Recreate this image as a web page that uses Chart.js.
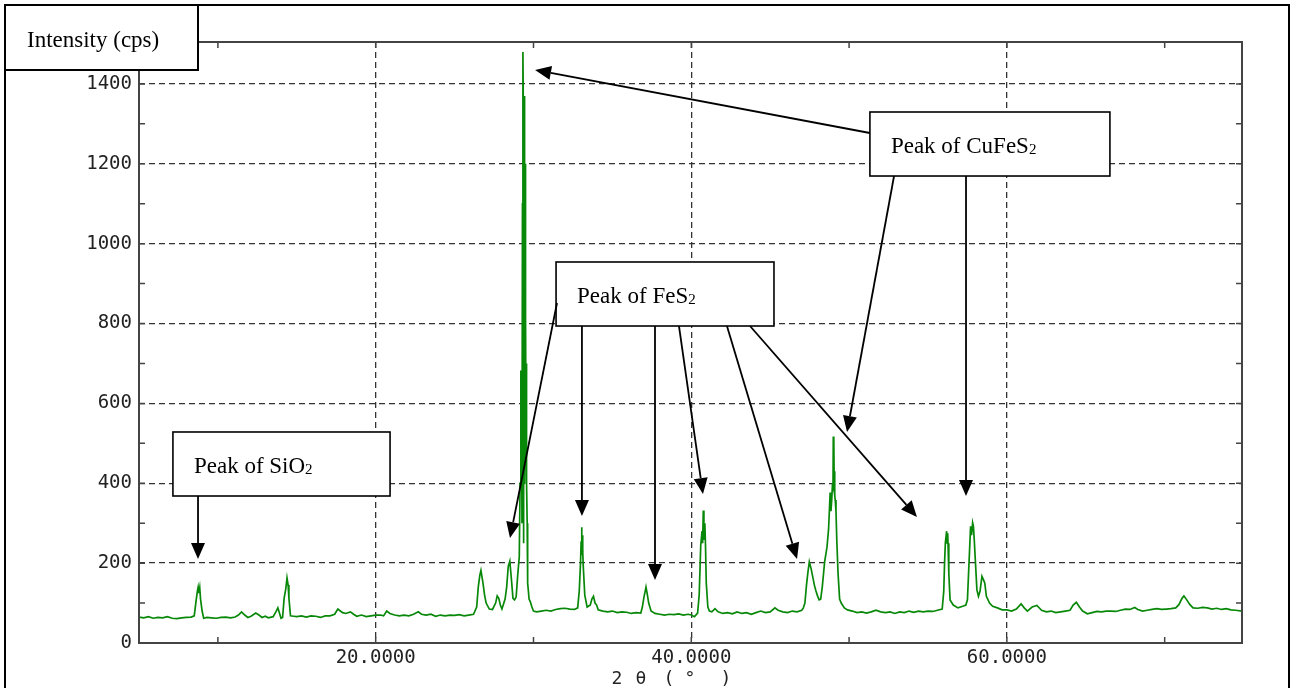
<!DOCTYPE html>
<html><head><meta charset="utf-8">
<script src="https://cdn.jsdelivr.net/npm/chart.js@4.4.1/dist/chart.umd.min.js"></script>
<style>html,body{margin:0;padding:0;background:#fff;overflow:hidden}#wrap{width:1294px;height:688px}</style>
</head><body><div id="wrap"><canvas id="c" width="1294" height="688"></canvas></div>
<script>
// ---- data: XRD scan, [2θ (deg), intensity (cps)] ----
const pattern = [
 [5.0,65],[5.3,63],[5.6,66],[5.9,62],[6.2,64],[6.5,63],[6.8,66],[7.1,62],[7.4,61],[7.7,63],[8.0,64],[8.3,65],[8.5,68],
 [8.6,100],[8.7,130],[8.75,140],[8.8,125],[8.85,138],[8.9,110],[9.0,80],[9.1,62],[9.3,64],[9.6,63],[9.9,62],[10.2,64],
 [10.5,65],[10.8,63],[11.1,65],[11.3,70],[11.5,78],[11.7,70],[11.9,64],[12.1,67],[12.4,75],[12.6,70],[12.8,64],[13.0,67],
 [13.2,63],[13.5,66],[13.7,80],[13.8,88],[13.9,75],[14.0,62],[14.1,64],[14.2,113],[14.3,135],[14.38,163],[14.45,145],
 [14.5,113],[14.6,68],[14.8,67],[15.0,66],[15.3,68],[15.6,65],[15.9,68],[16.2,67],[16.5,64],[16.8,68],[17.1,68],[17.4,72],
 [17.6,85],[17.7,82],[17.9,76],[18.1,74],[18.4,78],[18.6,72],[18.8,67],[19.1,70],[19.4,66],[19.7,68],[20.0,70],[20.3,70],
 [20.5,68],[20.7,80],[20.9,74],[21.2,70],[21.5,68],[21.8,70],[22.1,68],[22.4,72],[22.7,78],[22.9,72],[23.2,70],[23.5,72],
 [23.8,67],[24.1,70],[24.4,68],[24.7,70],[25.0,69],[25.3,71],[25.6,68],[25.9,70],[26.2,72],[26.4,90],[26.5,140],[26.6,170],
 [26.67,182],[26.8,150],[26.9,120],[27.0,100],[27.2,85],[27.4,84],[27.6,100],[27.7,118],[27.8,112],[27.9,95],[28.0,85],
 [28.2,110],[28.3,140],[28.4,192],[28.5,205],[28.6,160],[28.7,112],[28.8,108],[28.9,115],[29.0,170],[29.1,217],[29.15,400],
 [29.2,680],[29.24,680],[29.27,300],[29.3,1100],[29.33,1480],[29.35,1370],[29.36,250],[29.37,1370],[29.38,300],[29.39,1370],
 [29.4,400],[29.41,1370],[29.42,500],[29.43,1370],[29.44,400],[29.45,1370],[29.46,500],[29.47,1200],[29.48,600],[29.49,815],
 [29.5,450],[29.51,815],[29.53,500],[29.55,700],[29.57,400],[29.6,300],[29.63,150],[29.67,133],
 [29.72,110],[29.8,103],[29.9,90],[30.0,80],[30.2,78],[30.5,80],[30.8,82],[31.1,80],[31.4,84],[31.7,86],[32.0,87],[32.3,85],
 [32.6,84],[32.8,88],[32.9,130],[32.98,200],[33.02,255],[33.05,290],[33.07,220],[33.09,270],[33.12,230],[33.15,195],[33.25,120],[33.4,90],[33.6,95],
 [33.7,110],[33.8,117],[33.9,100],[34.0,95],[34.1,83],[34.4,80],[34.7,78],[35.0,80],[35.3,76],[35.6,78],[35.9,77],[36.2,74],
 [36.5,76],[36.8,75],[36.9,90],[37.0,115],[37.07,128],[37.13,140],[37.2,125],[37.3,100],[37.45,80],[37.7,74],[38.0,72],
 [38.3,70],[38.6,72],[38.9,71],[39.2,73],[39.5,70],[39.8,72],[40.0,70],[40.2,66],[40.4,75],[40.5,120],[40.6,245],[40.68,280],
 [40.72,250],[40.76,332],[40.8,300],[40.83,260],[40.86,300],[40.9,245],[40.95,150],[41.05,90],[41.15,80],[41.3,78],[41.5,86],[41.7,78],[42.0,74],
 [42.3,76],[42.6,73],[42.9,78],[43.2,74],[43.5,76],[43.8,72],[44.1,76],[44.4,80],[44.7,76],[45.0,78],[45.3,88],[45.5,82],
 [45.8,78],[46.1,76],[46.4,80],[46.7,78],[47.0,82],[47.1,88],[47.2,100],[47.3,145],[47.4,180],[47.48,203],[47.6,185],
 [47.7,165],[47.8,145],[47.9,130],[48.0,118],[48.1,108],[48.2,110],[48.3,140],[48.45,203],[48.6,240],[48.7,285],[48.8,377],
 [48.85,330],[48.9,358],[48.95,400],[48.98,380],[49.0,517],[49.02,400],[49.04,517],[49.06,380],[49.08,430],[49.1,370],[49.12,358],[49.17,330],[49.22,260],[49.3,175],[49.4,110],[49.5,100],
 [49.7,88],[49.9,83],[50.2,80],[50.5,76],[50.8,78],[51.1,75],[51.4,78],[51.7,82],[52.0,78],[52.3,76],[52.6,78],[52.9,74],
 [53.2,78],[53.5,76],[53.8,80],[54.1,77],[54.4,80],[54.7,78],[55.0,80],[55.3,79],[55.6,82],[55.9,85],[56.0,130],[56.05,200],
 [56.1,250],[56.18,280],[56.22,250],[56.25,275],[56.27,250],[56.32,175],[56.4,108],[56.6,95],[56.9,88],[57.2,92],[57.4,95],[57.5,108],
 [57.6,200],[57.7,292],[57.76,270],[57.83,301],[57.88,292],[57.93,260],[58.0,208],[58.1,133],[58.2,117],[58.3,130],[58.42,167],
 [58.5,160],[58.6,150],[58.7,117],[58.9,100],[59.1,92],[59.4,88],[59.7,83],[60.0,83],[60.3,80],[60.6,85],[60.9,98],[61.1,88],
 [61.3,80],[61.6,90],[61.9,94],[62.2,82],[62.5,78],[62.8,80],[63.1,76],[63.4,78],[63.7,80],[64.0,82],[64.2,95],[64.4,102],
 [64.6,90],[64.8,80],[65.1,73],[65.4,76],[65.7,79],[66.0,78],[66.3,80],[66.6,80],[66.9,79],[67.2,82],[67.5,85],[67.8,84],
 [68.1,89],[68.3,84],[68.6,80],[68.9,82],[69.2,84],[69.5,86],[69.8,84],[70.1,85],[70.4,86],[70.7,88],[70.9,96],[71.1,112],
 [71.22,118],[71.4,108],[71.6,96],[71.8,88],[72.1,87],[72.4,89],[72.7,88],[73.0,85],[73.3,87],[73.6,84],[73.9,86],[74.2,83],
 [74.5,82],[74.9,80]
];
const xTickValues = [10, 20, 30, 40, 50, 60, 70];
const xTickLabels = {20: '20.0000', 40: '40.0000', 60: '60.0000'};
const yTickValues = [0,100,200,300,400,500,600,700,800,900,1000,1100,1200,1300,1400];
const yLabelValues = [0,200,400,600,800,1000,1200,1400];
const xTitleChars = ['2', 'θ', '(', '°', ')'];
const yTitle = 'Intensity (cps)';

// annotation boxes: corners in data coords (2θ, cps)
const boxes = [
 {text: 'Peak of SiO', sub: '2', x0: 7.15, y0: 528.4, x1: 20.91, y1: 368.1},
 {text: 'Peak of FeS', sub: '2', x0: 31.43, y0: 954.1, x1: 45.24, y1: 793.8},
 {text: 'Peak of CuFeS', sub: '2', x0: 51.32, y0: 1329.7, x1: 66.53, y1: 1169.4}
];
// arrows: tail -> tip in data coords
const arrows = [
 [8.74, 368.1, 8.74, 210.3],
 [51.32, 1277.1, 30.10, 1434.9],
 [52.85, 1169.4, 49.87, 528.4],
 [57.41, 1169.4, 57.41, 368.1],
 [31.49, 851.4, 28.51, 262.9],
 [33.07, 793.8, 33.07, 318.0],
 [37.70, 793.8, 37.70, 157.8],
 [39.22, 793.8, 40.74, 373.1],
 [42.26, 793.8, 46.70, 210.3],
 [43.72, 793.8, 54.30, 315.5]
];

const SERIF = '"Liberation Serif", "Times New Roman", serif';
const MONO = '"DejaVu Sans Mono", monospace';

const decor = {
 id: 'decor',
 afterDraw(chart) {
  const c = chart.ctx, a = chart.chartArea, sx = chart.scales.x, sy = chart.scales.y;
  const X = v => sx.getPixelForValue(v), Y = v => sy.getPixelForValue(v);
  c.save();
  c.strokeStyle = '#444'; c.lineWidth = 2;
  c.strokeRect(a.left, a.top, a.right - a.left, a.bottom - a.top);
  c.lineWidth = 1.5; c.beginPath();
  xTickValues.forEach(v => { const p = X(v); c.moveTo(p, a.bottom); c.lineTo(p, a.bottom - 6); c.moveTo(p, a.top); c.lineTo(p, a.top + 6); });
  yTickValues.forEach(v => { const p = Y(v); c.moveTo(a.left, p); c.lineTo(a.left + 6, p); c.moveTo(a.right, p); c.lineTo(a.right - 6, p); });
  c.stroke();
  c.strokeStyle = '#000'; c.lineWidth = 2;
  c.strokeRect(5, 5, 1284, 700);
  // x title, wide-spaced glyphs
  c.fillStyle = '#222'; c.font = '18px ' + MONO; c.textAlign = 'center'; c.textBaseline = 'alphabetic';
  const pos = [617, 641, 669, 690, 726];
  xTitleChars.forEach((ch, i) => c.fillText(ch, pos[i], 684));
  // y title box
  c.fillStyle = '#fff'; c.fillRect(5, 5, 193, 65);
  c.strokeStyle = '#000'; c.lineWidth = 2; c.strokeRect(5, 5, 193, 65);
  c.fillStyle = '#000'; c.textAlign = 'left'; c.font = '23px ' + SERIF;
  c.fillText(yTitle, 27, 47);
  boxes.forEach(b => {
   const l = X(b.x0), t = Y(b.y0), r = X(b.x1), bt = Y(b.y1);
   c.fillStyle = '#fff'; c.fillRect(l, t, r - l, bt - t);
   c.strokeStyle = '#000'; c.lineWidth = 1.6; c.strokeRect(l, t, r - l, bt - t);
   c.fillStyle = '#000'; c.font = '23px ' + SERIF; c.textAlign = 'left';
   c.fillText(b.text, l + 21, t + 41);
   const w = c.measureText(b.text).width;
   c.font = '15px ' + SERIF; c.fillText(b.sub, l + 21 + w, t + 42);
  });
  arrows.forEach(([x0, y0, x1, y1]) => {
   const px0 = X(x0), py0 = Y(y0), px1 = X(x1), py1 = Y(y1);
   const ang = Math.atan2(py1 - py0, px1 - px0), L = 16, H = 7;
   const bx = px1 - L * Math.cos(ang), by = py1 - L * Math.sin(ang);
   c.strokeStyle = '#000'; c.lineWidth = 1.8;
   c.beginPath(); c.moveTo(px0, py0); c.lineTo(bx, by); c.stroke();
   c.fillStyle = '#000'; c.beginPath();
   c.moveTo(px1, py1);
   c.lineTo(bx + H * Math.sin(ang), by - H * Math.cos(ang));
   c.lineTo(bx - H * Math.sin(ang), by + H * Math.cos(ang));
   c.closePath(); c.fill();
  });
  c.restore();
 }
};

new Chart(document.getElementById('c'), {
 type: 'line',
 data: {datasets: [{data: pattern.map(([x, y]) => ({x, y})), borderColor: '#088808', borderWidth: 1.7, pointRadius: 0, tension: 0, fill: false}]},
 options: {
  responsive: false, animation: false, devicePixelRatio: 1,
  layout: {padding: {left: 0, top: 42, right: 52, bottom: 0}},
  plugins: {legend: {display: false}, tooltip: {enabled: false}},
  scales: {
   x: {
    type: 'linear', min: 5, max: 74.9,
    afterBuildTicks: s => { s.ticks = xTickValues.map(v => ({value: v})); },
    afterFit: s => { s.height = 45; },
    ticks: {autoSkip: false, maxRotation: 0, padding: 4, color: '#222', font: {family: MONO, size: 19}, callback: v => xTickLabels[v] || ''},
    grid: {drawTicks: false, lineWidth: 1.3, color: ctx => (ctx.tick && xTickLabels[ctx.tick.value]) ? '#333' : 'rgba(0,0,0,0)'},
    border: {display: false, dash: [6, 4]}
   },
   y: {
    type: 'linear', min: 0, max: 1505,
    afterBuildTicks: s => { s.ticks = yTickValues.map(v => ({value: v})); },
    afterFit: s => { s.width = 139; },
    ticks: {autoSkip: false, padding: 7, color: '#222', font: {family: MONO, size: 19}, callback: v => yLabelValues.includes(v) ? String(v) : ''},
    grid: {drawTicks: false, lineWidth: 1.3, color: ctx => (ctx.tick && ctx.tick.value > 0 && yLabelValues.includes(ctx.tick.value)) ? '#333' : 'rgba(0,0,0,0)'},
    border: {display: false, dash: [6, 4]}
   }
  }
 },
 plugins: [decor]
});
</script></body></html>
